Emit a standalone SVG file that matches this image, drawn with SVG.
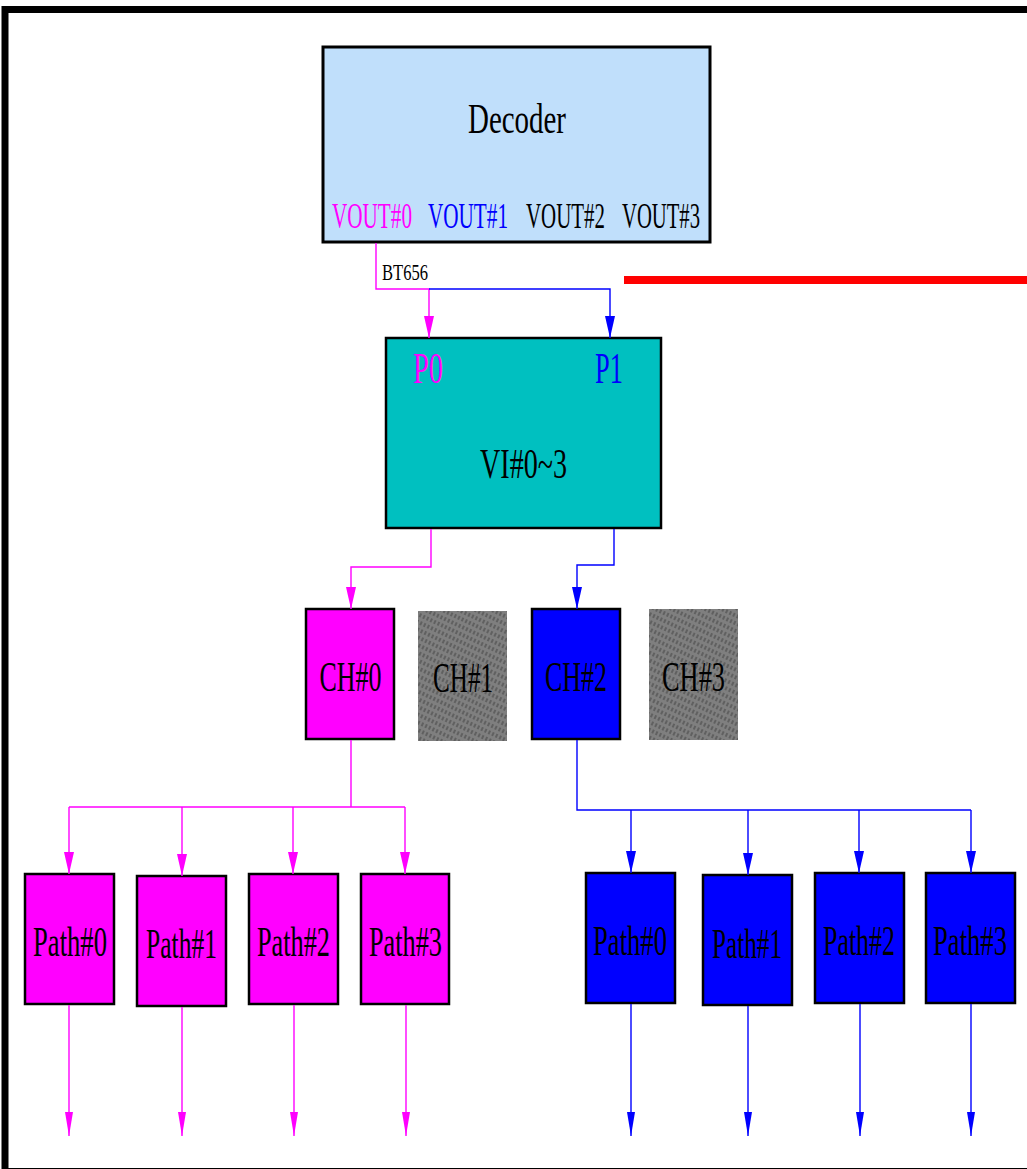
<svg xmlns="http://www.w3.org/2000/svg" width="1027" height="1169" viewBox="0 0 1027 1169">
<style>
text{font-family:"Liberation Serif","Times New Roman",serif;text-anchor:middle}
.box{stroke:#000;stroke-width:2.5}
.mg{fill:#ff00ff}
.bl{fill:#0000ff}
.cm{fill:none;stroke:#ff00ff;stroke-width:1.4}
.cb{fill:none;stroke:#0000ff;stroke-width:1.4}
.lbl{font-size:42px;fill:#000}
.vo{font-size:36px}
</style>
<defs>
<marker id="am" viewBox="0 0 22 10" refX="22" refY="5" markerWidth="22" markerHeight="10" markerUnits="userSpaceOnUse" orient="auto"><path d="M0,0 L22,5 L0,10 Z" fill="#ff00ff"/></marker>
<marker id="ab" viewBox="0 0 22 10" refX="22" refY="5" markerWidth="22" markerHeight="10" markerUnits="userSpaceOnUse" orient="auto"><path d="M0,0 L22,5 L0,10 Z" fill="#0000ff"/></marker>
<marker id="amn" viewBox="0 0 24 8" refX="24" refY="4" markerWidth="24" markerHeight="8" markerUnits="userSpaceOnUse" orient="auto"><path d="M0,0 L24,4 L0,8 Z" fill="#ff00ff"/></marker>
<marker id="abn" viewBox="0 0 24 8" refX="24" refY="4" markerWidth="24" markerHeight="8" markerUnits="userSpaceOnUse" orient="auto"><path d="M0,0 L24,4 L0,8 Z" fill="#0000ff"/></marker>
<pattern id="hatch" width="4" height="7" patternUnits="userSpaceOnUse" patternTransform="rotate(25)">
<rect width="4" height="7" fill="#7f7f7f"/>
<line x1="1" y1="0" x2="1" y2="7" stroke="#404040" stroke-width="1" stroke-dasharray="4 3"/>
</pattern>
</defs>
<rect x="0" y="0" width="1027" height="1169" fill="#fff"/>
<rect x="5" y="9.5" width="1100" height="1162" fill="none" stroke="#000" stroke-width="7"/>
<rect x="624" y="276" width="403" height="8" fill="#ff0000"/>

<g id="decoder">
<rect x="323" y="47" width="387" height="195" fill="#c0dffb" stroke="#000" stroke-width="3"/>
<text transform="translate(517,133) scale(0.689,1)" font-size="42">Decoder</text>
<text transform="translate(372,228) scale(0.588,1)" class="vo" fill="#ff00ff">VOUT#0</text>
<text transform="translate(468,228) scale(0.588,1)" class="vo" fill="#0000ff">VOUT#1</text>
<text transform="translate(565.5,228) scale(0.581,1)" class="vo" fill="#000">VOUT#2</text>
<text transform="translate(661,228) scale(0.574,1)" class="vo" fill="#000">VOUT#3</text>
</g>

<g id="vi">
<rect x="386" y="338" width="275" height="190" fill="#00c0c0" class="box"/>
<text transform="translate(428,383) scale(0.645,1)" font-size="44" fill="#ff00ff">P0</text>
<text transform="translate(609,383) scale(0.6,1)" font-size="44" fill="#0000ff">P1</text>
<text transform="translate(523.5,478) scale(0.669,1)" font-size="42">VI#0~3</text>
</g>

<g id="ch0"><rect x="306" y="609" width="88" height="130" class="box mg"/><text transform="translate(350.5,691) scale(0.618,1)" class="lbl">CH#0</text></g>
<g id="ch1"><rect x="418" y="611" width="89" height="130" fill="url(#hatch)"/><text transform="translate(463,692) scale(0.598,1)" class="lbl">CH#1</text></g>
<g id="ch2"><rect x="532" y="609" width="88" height="130" class="box bl"/><text transform="translate(576,691) scale(0.618,1)" class="lbl">CH#2</text></g>
<g id="ch3"><rect x="649" y="609" width="89" height="131" fill="url(#hatch)"/><text transform="translate(693.5,691) scale(0.628,1)" class="lbl">CH#3</text></g>

<g id="mpath0"><rect x="25" y="874" width="89" height="130" class="box mg"/><text transform="translate(70,956) scale(0.634,1)" class="lbl">Path#0</text></g>
<g id="mpath1"><rect x="137" y="876" width="89" height="130" class="box mg"/><text transform="translate(181.5,958) scale(0.608,1)" class="lbl">Path#1</text></g>
<g id="mpath2"><rect x="249" y="874" width="89" height="130" class="box mg"/><text transform="translate(293.5,956) scale(0.626,1)" class="lbl">Path#2</text></g>
<g id="mpath3"><rect x="361" y="874" width="88" height="130" class="box mg"/><text transform="translate(405.5,956) scale(0.626,1)" class="lbl">Path#3</text></g>

<g id="bpath0"><rect x="586" y="873" width="89" height="130" class="box bl"/><text transform="translate(630,955) scale(0.634,1)" class="lbl">Path#0</text></g>
<g id="bpath1"><rect x="703" y="875" width="89" height="130" class="box bl"/><text transform="translate(747,958) scale(0.6,1)" class="lbl">Path#1</text></g>
<g id="bpath2"><rect x="815" y="873" width="89" height="130" class="box bl"/><text transform="translate(859,955) scale(0.617,1)" class="lbl">Path#2</text></g>
<g id="bpath3"><rect x="926" y="873" width="89" height="130" class="box bl"/><text transform="translate(970,955) scale(0.634,1)" class="lbl">Path#3</text></g>

<g id="connectors">
<path class="cm" d="M376,243 V289 H429 V338" marker-end="url(#am)"/>
<path class="cb" d="M429,289 H610 V338" marker-end="url(#ab)"/>
<text transform="translate(405,280) scale(0.69,1)" font-size="24" fill="#000">BT656</text>
<path class="cm" d="M431,529 V567 H351 V609" marker-end="url(#am)"/>
<path class="cb" d="M614,529 V565 H577 V609" marker-end="url(#ab)"/>
<path class="cm" d="M351,740 V807 M69,807 H405"/>
<path class="cm" d="M69,807 V874" marker-end="url(#am)"/>
<path class="cm" d="M182,807 V876" marker-end="url(#am)"/>
<path class="cm" d="M293,807 V874" marker-end="url(#am)"/>
<path class="cm" d="M405,807 V874" marker-end="url(#am)"/>
<path class="cb" d="M577,740 V810 H971"/>
<path class="cb" d="M631,810 V873" marker-end="url(#ab)"/>
<path class="cb" d="M748,810 V875" marker-end="url(#ab)"/>
<path class="cb" d="M859,810 V873" marker-end="url(#ab)"/>
<path class="cb" d="M971,810 V873" marker-end="url(#ab)"/>
<path class="cm" d="M69,1005 V1136" marker-end="url(#amn)"/>
<path class="cm" d="M182,1007 V1136" marker-end="url(#amn)"/>
<path class="cm" d="M294,1005 V1136" marker-end="url(#amn)"/>
<path class="cm" d="M406,1005 V1136" marker-end="url(#amn)"/>
<path class="cb" d="M631,1004 V1136" marker-end="url(#abn)"/>
<path class="cb" d="M748,1006 V1136" marker-end="url(#abn)"/>
<path class="cb" d="M860,1004 V1136" marker-end="url(#abn)"/>
<path class="cb" d="M971,1004 V1136" marker-end="url(#abn)"/>
</g>
</svg>
